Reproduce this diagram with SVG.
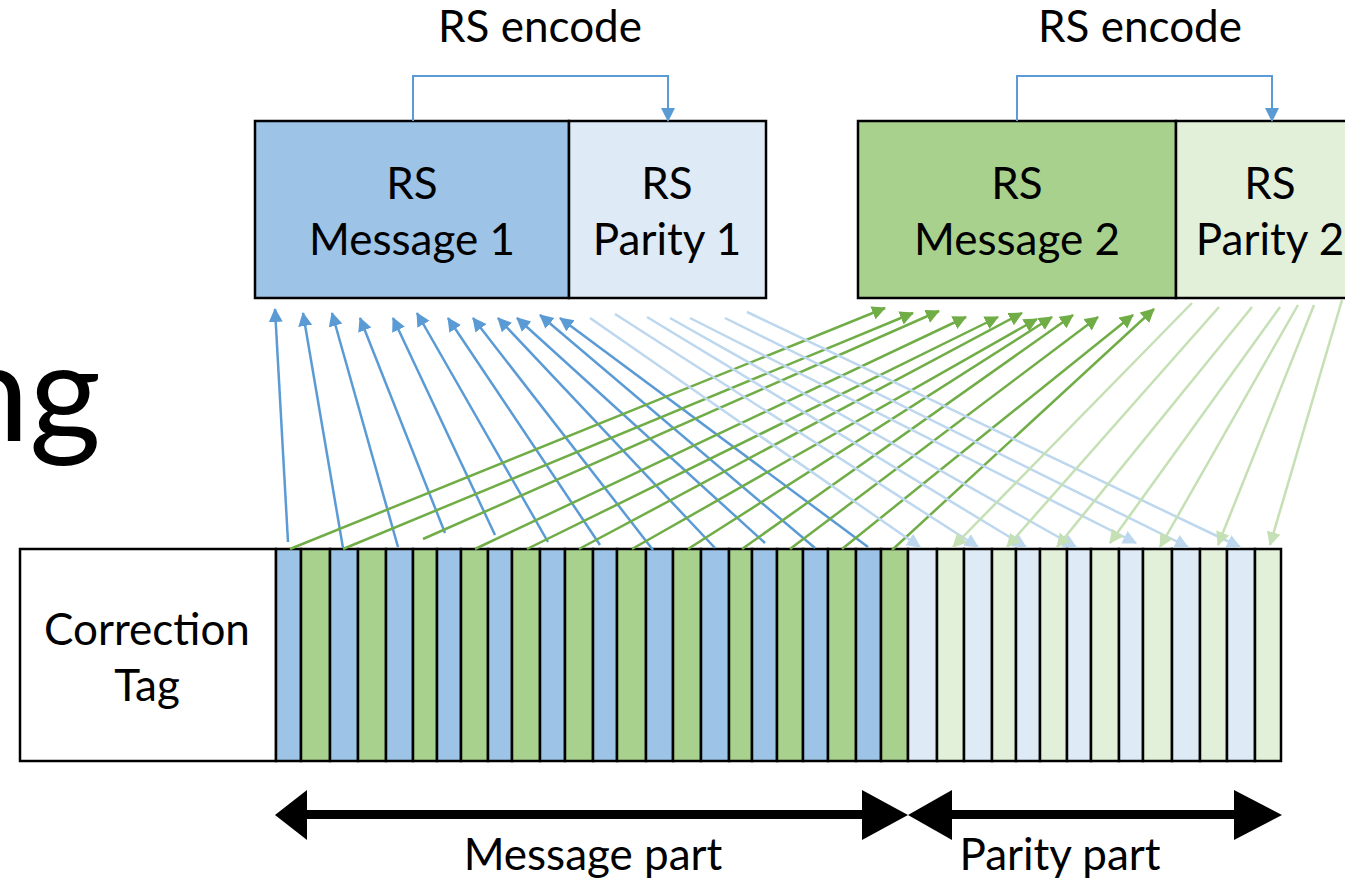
<svg xmlns="http://www.w3.org/2000/svg" width="1345" height="883" viewBox="0 0 1345 883">
<defs>
<style>
.t{font-family:Lato,"Liberation Sans",sans-serif;font-size:44px;fill:#000;text-anchor:middle}
.box{stroke:#000;stroke-width:2.5}
.bar{stroke:#000;stroke-width:2.5}
.b{fill:#9DC3E6}.g{fill:#A9D18E}.lb{fill:#DEEBF7}.lg{fill:#E2F0D9}
.cb{stroke:#5B9BD5;stroke-width:2.5;fill:none;marker-end:url(#hb)}
.cg{stroke:#70AD47;stroke-width:2.5;fill:none;marker-end:url(#hg)}
.clb{stroke:#BDD7EE;stroke-width:2.5;fill:none;marker-end:url(#hlb)}
.clg{stroke:#C5E0B4;stroke-width:2.5;fill:none;marker-end:url(#hlg)}
.enc{stroke:#5B9BD5;stroke-width:2;fill:none;marker-end:url(#hb)}
</style>
<marker id="hb" markerUnits="userSpaceOnUse" markerWidth="16" markerHeight="16" refX="13" refY="7" orient="auto"><path d="M0,0 L14,7 L0,14 z" fill="#5B9BD5"/></marker>
<marker id="hg" markerUnits="userSpaceOnUse" markerWidth="16" markerHeight="16" refX="13" refY="7" orient="auto"><path d="M0,0 L14,7 L0,14 z" fill="#70AD47"/></marker>
<marker id="hlb" markerUnits="userSpaceOnUse" markerWidth="16" markerHeight="16" refX="13" refY="7" orient="auto"><path d="M0,0 L14,7 L0,14 z" fill="#BDD7EE"/></marker>
<marker id="hlg" markerUnits="userSpaceOnUse" markerWidth="16" markerHeight="16" refX="13" refY="7" orient="auto"><path d="M0,0 L14,7 L0,14 z" fill="#C5E0B4"/></marker>
</defs>
<rect width="1345" height="883" fill="#fff"/>
<text x="101" y="441" font-family="Lato,'Liberation Sans',sans-serif" font-size="138" text-anchor="end">ng</text>
<g id="rs-message-1">
<rect class="box b" x="255" y="121" width="314" height="177"/>
<text class="t" x="412" y="199">RS</text>
<text class="t" x="412" y="255">Message 1</text>
</g>
<g id="rs-parity-1">
<rect class="box lb" x="569" y="121" width="197" height="177"/>
<text class="t" x="667" y="199">RS</text>
<text class="t" x="667" y="255">Parity 1</text>
</g>
<g id="rs-message-2">
<rect class="box g" x="858" y="121" width="318" height="177"/>
<text class="t" x="1017" y="199">RS</text>
<text class="t" x="1017" y="255">Message 2</text>
</g>
<g id="rs-parity-2">
<rect class="box lg" x="1176" y="121" width="180" height="177"/>
<text class="t" x="1270" y="199">RS</text>
<text class="t" x="1270" y="255">Parity 2</text>
</g>
<g id="encode-labels">
<text class="t" x="540" y="42">RS encode</text>
<text class="t" x="1140" y="42">RS encode</text>
</g>
<g id="correction-tag">
<rect class="box" fill="#fff" x="20" y="549" width="256" height="212"/>
<text class="t" x="147" y="645">Correction</text>
<text class="t" x="147" y="701">Tag</text>
</g>
<g id="codeword">
<rect class="bar b" x="276" y="549" width="25" height="212"/>
<rect class="bar g" x="301" y="549" width="29" height="212"/>
<rect class="bar b" x="330" y="549" width="28" height="212"/>
<rect class="bar g" x="358" y="549" width="28" height="212"/>
<rect class="bar b" x="386" y="549" width="27" height="212"/>
<rect class="bar g" x="413" y="549" width="24" height="212"/>
<rect class="bar b" x="437" y="549" width="24" height="212"/>
<rect class="bar g" x="461" y="549" width="27" height="212"/>
<rect class="bar b" x="488" y="549" width="24" height="212"/>
<rect class="bar g" x="512" y="549" width="28" height="212"/>
<rect class="bar b" x="540" y="549" width="25" height="212"/>
<rect class="bar g" x="565" y="549" width="28" height="212"/>
<rect class="bar b" x="593" y="549" width="24" height="212"/>
<rect class="bar g" x="617" y="549" width="29" height="212"/>
<rect class="bar b" x="646" y="549" width="27" height="212"/>
<rect class="bar g" x="673" y="549" width="28" height="212"/>
<rect class="bar b" x="701" y="549" width="28" height="212"/>
<rect class="bar g" x="729" y="549" width="23" height="212"/>
<rect class="bar b" x="752" y="549" width="25" height="212"/>
<rect class="bar g" x="777" y="549" width="26" height="212"/>
<rect class="bar b" x="803" y="549" width="25" height="212"/>
<rect class="bar g" x="828" y="549" width="28" height="212"/>
<rect class="bar b" x="856" y="549" width="25" height="212"/>
<rect class="bar g" x="881" y="549" width="27" height="212"/>
<rect class="bar lb" x="908" y="549" width="29" height="212"/>
<rect class="bar lg" x="937" y="549" width="27" height="212"/>
<rect class="bar lb" x="964" y="549" width="28" height="212"/>
<rect class="bar lg" x="992" y="549" width="24" height="212"/>
<rect class="bar lb" x="1016" y="549" width="24" height="212"/>
<rect class="bar lg" x="1040" y="549" width="27" height="212"/>
<rect class="bar lb" x="1067" y="549" width="24" height="212"/>
<rect class="bar lg" x="1091" y="549" width="28" height="212"/>
<rect class="bar lb" x="1119" y="549" width="24" height="212"/>
<rect class="bar lg" x="1143" y="549" width="29" height="212"/>
<rect class="bar lb" x="1172" y="549" width="28" height="212"/>
<rect class="bar lg" x="1200" y="549" width="27" height="212"/>
<rect class="bar lb" x="1227" y="549" width="28" height="212"/>
<rect class="bar lg" x="1255" y="549" width="26" height="212"/>
</g>
<g id="connectors">
<path class="enc" d="M413,121 V76 H668 V121"/>
<path class="enc" d="M1017,121 V76 H1272 V121"/>
<line class="cb" x1="288" y1="542" x2="275" y2="309"/>
<line class="cb" x1="343" y1="548" x2="303" y2="313"/>
<line class="cb" x1="398" y1="547" x2="332" y2="313"/>
<line class="cb" x1="445" y1="533" x2="360" y2="318"/>
<line class="cb" x1="495" y1="535" x2="393" y2="318"/>
<line class="cb" x1="548" y1="542" x2="417" y2="313"/>
<line class="cb" x1="600" y1="545" x2="448" y2="318"/>
<line class="cb" x1="653" y1="550" x2="473" y2="318"/>
<line class="cb" x1="715" y1="548" x2="498" y2="318"/>
<line class="cb" x1="765" y1="543" x2="517" y2="318"/>
<line class="cb" x1="815" y1="548" x2="540" y2="315"/>
<line class="cb" x1="868" y1="547" x2="560" y2="318"/>
<line class="cg" x1="290" y1="549" x2="885" y2="308"/>
<line class="cg" x1="343" y1="549" x2="913" y2="313"/>
<line class="cg" x1="423" y1="539" x2="939" y2="311"/>
<line class="cg" x1="475" y1="549" x2="966" y2="317"/>
<line class="cg" x1="527" y1="549" x2="998" y2="317"/>
<line class="cg" x1="579" y1="549" x2="1022" y2="313"/>
<line class="cg" x1="632" y1="549" x2="1037" y2="319"/>
<line class="cg" x1="688" y1="549" x2="1052" y2="317"/>
<line class="cg" x1="742" y1="549" x2="1073" y2="315"/>
<line class="cg" x1="790" y1="549" x2="1098" y2="317"/>
<line class="cg" x1="842" y1="549" x2="1133" y2="315"/>
<line class="cg" x1="892" y1="550" x2="1154" y2="309"/>
<line class="clb" x1="590" y1="318" x2="920" y2="547"/>
<line class="clb" x1="615" y1="314" x2="978" y2="547"/>
<line class="clb" x1="647" y1="317" x2="1026" y2="547"/>
<line class="clb" x1="670" y1="318" x2="1076" y2="547"/>
<line class="clb" x1="690" y1="318" x2="1136" y2="543"/>
<line class="clb" x1="725" y1="318" x2="1188" y2="547"/>
<line class="clb" x1="747" y1="312" x2="1240" y2="547"/>
<line class="clg" x1="1192" y1="303" x2="953" y2="547"/>
<line class="clg" x1="1219" y1="307" x2="1007" y2="547"/>
<line class="clg" x1="1252" y1="307" x2="1057" y2="547"/>
<line class="clg" x1="1280" y1="307" x2="1110" y2="543"/>
<line class="clg" x1="1298" y1="305" x2="1160" y2="547"/>
<line class="clg" x1="1314" y1="305" x2="1218" y2="545"/>
<line class="clg" x1="1342" y1="300" x2="1270" y2="545"/>
</g>
<g id="part-arrows">
<rect x="300" y="810" width="566" height="9" fill="#000"/>
<polygon points="275,815 307,790 307,840" fill="#000"/>
<polygon points="908,815 862,790 862,840" fill="#000"/>
<rect x="950" y="810" width="286" height="9" fill="#000"/>
<polygon points="908,815 952,790 952,840" fill="#000"/>
<polygon points="1282,815 1234,790 1234,840" fill="#000"/>
<text class="t" x="593" y="870">Message part</text>
<text class="t" x="1060" y="870">Parity part</text>
</g>
</svg>
